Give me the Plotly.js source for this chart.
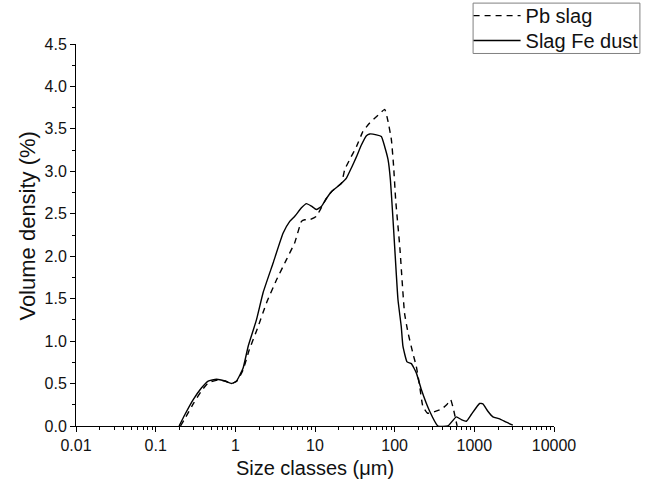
<!DOCTYPE html>
<html>
<head>
<meta charset="utf-8">
<script src="https://cdn.plot.ly/plotly-3.0.1.min.js"></script>
<style>html,body{margin:0;padding:0;background:#fff;}#chart{width:649px;height:494px;}</style>
</head>
<body>
<div id="chart"></div>
<script>
// Series: Pb slag (dashed)
const pbSlagSize = [0.205, 0.24, 0.30, 0.38, 0.46, 0.6, 0.74, 0.9, 1.05, 1.25, 1.5, 1.93, 2.46, 3.28, 4.38, 5.57, 6.76, 7.43, 8.59, 10.4, 12.6, 13.9, 16.1, 18.6, 21.5, 23.6, 27.3, 33.1, 40, 48.6, 61.8, 75, 82.5, 91, 97, 103, 116, 133, 147, 169, 187, 206, 226, 259, 318, 388, 449, 504, 549, 608];
const pbSlagDensity = [0, 0.11, 0.27, 0.42, 0.51, 0.54, 0.53, 0.50, 0.53, 0.66, 0.90, 1.17, 1.45, 1.72, 1.96, 2.16, 2.41, 2.43, 2.43, 2.47, 2.61, 2.68, 2.76, 2.81, 2.86, 3.02, 3.14, 3.29, 3.47, 3.57, 3.66, 3.73, 3.59, 3.37, 3.06, 2.66, 2.11, 1.33, 1.10, 0.86, 0.70, 0.47, 0.23, 0.15, 0.17, 0.20, 0.25, 0.31, 0.19, 0];

// Series: Slag Fe dust (solid)
const feDustSize = [0.197, 0.233, 0.296, 0.377, 0.456, 0.58, 0.74, 0.90, 1.035, 1.25, 1.45, 1.84, 2.23, 2.98, 3.97, 4.82, 5.57, 6.76, 7.81, 9.02, 10.4, 12.1, 13.9, 16.1, 18.6, 21.5, 24.8, 28.6, 33.1, 38.2, 44.2, 48.6, 59.0, 68.1, 75, 82.5, 88.4, 93.6, 100, 110, 121, 127, 143, 162, 187, 216, 275, 349, 466, 594, 686, 793, 916, 1164, 1280, 1479, 1710, 2075, 2518, 3044];
const feDustDensity = [0, 0.135, 0.31, 0.45, 0.53, 0.55, 0.53, 0.50, 0.53, 0.68, 0.94, 1.25, 1.57, 1.92, 2.27, 2.41, 2.47, 2.57, 2.62, 2.59, 2.55, 2.59, 2.68, 2.76, 2.81, 2.86, 2.92, 3.04, 3.17, 3.31, 3.42, 3.44, 3.43, 3.41, 3.29, 3.14, 2.90, 2.55, 2.11, 1.49, 1.17, 0.94, 0.755, 0.735, 0.626, 0.43, 0.174, 0, 0, 0.108, 0.076, 0.056, 0.135, 0.265, 0.26, 0.174, 0.108, 0.085, 0.045, 0.01];

const seriesNames = ["Pb slag", "Slag Fe dust"];
const xTickVals = [0.01, 0.1, 1, 10, 100, 1000, 10000];
const xTickText = ["0.01", "0.1", "1", "10", "100", "1000", "10000"];
const xTitle = "Size classes (\u03bcm)";
const yTitle = "Volume density (%)";

const minorVals = [];
for (let d = -2; d < 4; d++) {
  for (let k = 2; k <= 9; k++) minorVals.push(k * Math.pow(10, d));
}

const FONT = "Liberation Sans, Arial, sans-serif";
const traces = [
  {x: pbSlagSize, y: pbSlagDensity, name: seriesNames[0], mode: "lines", legend: "legend",
   line: {color: "#000", width: 1.4, dash: "6px,5px", shape: "spline", smoothing: 0.4}},
  {x: feDustSize, y: feDustDensity, name: seriesNames[1], mode: "lines", legend: "legend2",
   line: {color: "#000", width: 1.4, shape: "spline", smoothing: 0.4}}
];

// plot area in px: left 76, right 554.5, top 43.5, bottom 426.5
const PW = 478.5, PH = 383;
const px2x = p => (p - 76) / PW;
const py2y = p => (426.5 - p) / PH;

const legendBase = {xanchor: "left", yanchor: "top", borderwidth: 0,
  bgcolor: "rgba(0,0,0,0)", itemwidth: 47,
  font: {family: FONT, size: 20, color: "#111"}};

const layout = {
  width: 649, height: 494,
  margin: {l: 76, r: 94.5, t: 43.5, b: 67.5, pad: 0, autoexpand: false},
  paper_bgcolor: "#fff", plot_bgcolor: "#fff",
  font: {family: FONT, color: "#111", size: 16},
  showlegend: true,
  legend: Object.assign({x: px2x(469), y: py2y(-4.5)}, legendBase),
  legend2: Object.assign({x: px2x(469), y: py2y(20.5)}, legendBase),
  shapes: [
    {type: "rect", xref: "paper", yref: "paper",
     x0: px2x(473.5), x1: px2x(640.5), y0: py2y(53), y1: py2y(2.5),
     line: {color: "#808080", width: 1}, fillcolor: "rgba(0,0,0,0)"}
  ],
  annotations: [
    {text: yTitle, xref: "paper", yref: "paper", x: px2x(27), y: py2y(225.5),
     xanchor: "center", yanchor: "middle", textangle: -90, showarrow: false,
     font: {size: 22, family: FONT, color: "#111"}}
  ],
  xaxis: {
    type: "log", range: [-2, 4], automargin: false,
    tickvals: xTickVals, ticktext: xTickText,
    ticks: "outside", ticklen: 5, tickwidth: 1, tickcolor: "#000",
    showline: true, linecolor: "#000", linewidth: 1,
    showgrid: false, zeroline: false,
    tickfont: {size: 16, family: FONT, color: "#111"},
    minor: {tickvals: minorVals, ticks: "outside", ticklen: 3, tickwidth: 1, tickcolor: "#000", showgrid: false},
    title: {text: xTitle, font: {size: 20, family: FONT, color: "#111"}, standoff: 7}
  },
  yaxis: {
    range: [0, 4.5], dtick: 0.5, tick0: 0, tickformat: ".1f", automargin: false,
    ticks: "outside", ticklen: 5, tickwidth: 1, tickcolor: "#000",
    showline: true, linecolor: "#000", linewidth: 1,
    showgrid: false, zeroline: false,
    tickfont: {size: 16, family: FONT, color: "#111"},
    minor: {dtick: 0.25, ticks: "outside", ticklen: 3, tickwidth: 1, tickcolor: "#000", showgrid: false}
  }
};

Plotly.newPlot("chart", traces, layout, {displayModeBar: false, staticPlot: true});
</script>
</body>
</html>
